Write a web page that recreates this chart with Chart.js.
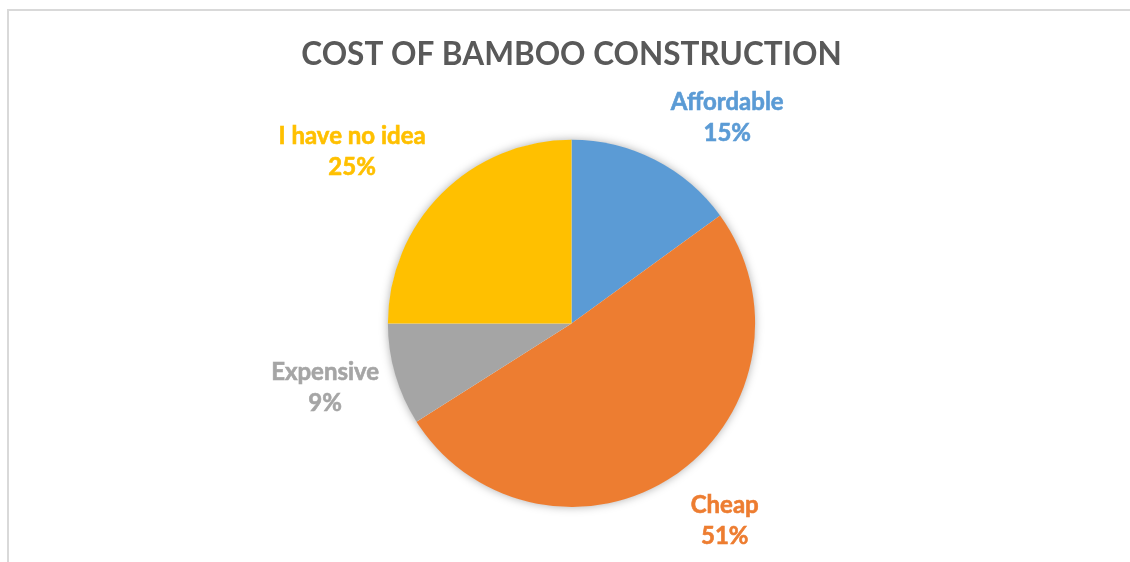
<!DOCTYPE html>
<html>
<head>
<meta charset="utf-8">
<script src="https://cdn.jsdelivr.net/npm/chart.js@4/dist/chart.umd.min.js"></script>
<style>
    html, body { margin: 0; padding: 0; background: #fff; }
    #wrap { position: relative; width: 1130px; height: 562px; overflow: hidden; }
    #frame { position: absolute; left: 7px; top: 9px; width: 1200px; height: 600px;
             border-left: 2px solid #d9d9d9; border-top: 2px solid #d9d9d9; }
    canvas { position: absolute; left: 0; top: 0; }
</style>
</head>
<body>
<div id="wrap">
    <div id="frame"></div>
    <canvas id="costChart" width="1130" height="562"></canvas>
</div>
<script>
const categories = ['Affordable', 'Cheap', 'Expensive', 'I have no idea'];
const shares = [15, 51, 9, 25];
const sliceColors = ['#5b9bd5', '#ed7d31', '#a5a5a5', '#ffc000'];

const FONT = 'Lato, "Open Sans", sans-serif';

// soft shadow behind the whole pie (drawn once so slices don't shade each other)
const pieShadow = {
    id: 'pieShadow',
    beforeDatasetsDraw(chart) {
        const arc = chart.getDatasetMeta(0).data[0];
        if (!arc) return;
        const { x, y, outerRadius } = arc.getProps(['x', 'y', 'outerRadius'], true);
        const ctx = chart.ctx;
        ctx.save();
        ctx.shadowColor = 'rgba(0,0,0,0.35)';
        ctx.shadowBlur = 10;
        ctx.fillStyle = '#ffffff';
        ctx.beginPath();
        ctx.arc(x, y, outerRadius - 0.5, 0, Math.PI * 2);
        ctx.fill();
        ctx.restore();
    }
};

// category name + percentage outside each slice
const outsideLabels = {
    id: 'outsideLabels',
    afterDatasetsDraw(chart) {
        const ctx = chart.ctx;
        const meta = chart.getDatasetMeta(0);
        const lineGap = 31;
        const padX = 16, padY = 13;
        ctx.save();
        ctx.font = 'bold 24px ' + FONT;
        ctx.textAlign = 'center';
        ctx.textBaseline = 'middle';
        ctx.lineWidth = 0.6;
        meta.data.forEach((arc, i) => {
            const p = arc.getProps(['x', 'y', 'startAngle', 'endAngle', 'outerRadius'], true);
            const mid = (p.startAngle + p.endAngle) / 2;
            const cx = Math.cos(mid), sy = Math.sin(mid);
            const ex = p.x + p.outerRadius * cx;
            const ey = p.y + p.outerRadius * sy;
            const name = categories[i];
            const pct = shares[i] + '%';
            const w = Math.max(ctx.measureText(name).width, ctx.measureText(pct).width);
            const h = lineGap * 2;
            const vy = Math.min(1, Math.max(0, (Math.abs(sy) - 0.15) * 2));
            const lx = ex + Math.sign(cx) * (w / 2 + padX);
            const ly = ey + Math.sign(sy) * vy * (h / 2 + padY) + 2;
            ctx.fillStyle = sliceColors[i];
            ctx.strokeStyle = sliceColors[i];
            ctx.fillText(name, lx, ly - lineGap / 2);
            ctx.strokeText(name, lx, ly - lineGap / 2);
            ctx.fillText(pct, lx, ly + lineGap / 2);
            ctx.strokeText(pct, lx, ly + lineGap / 2);
        });
        ctx.restore();
    }
};

new Chart(document.getElementById('costChart'), {
    type: 'pie',
    data: {
        labels: categories,
        datasets: [{
            data: shares,
            backgroundColor: sliceColors,
            borderWidth: 0,
            hoverOffset: 0
        }]
    },
    options: {
        responsive: false,
        animation: false,
        layout: { padding: { top: 0, bottom: 55, left: 13, right: 0 } },
        plugins: {
            legend: { display: false },
            tooltip: { enabled: false },
            title: {
                display: true,
                text: 'COST OF BAMBOO CONSTRUCTION',
                color: '#595959',
                font: { family: FONT, size: 31.5, weight: 'bold', lineHeight: 1.2 },
                padding: { top: 36, bottom: 66 }
            }
        }
    },
    plugins: [pieShadow, outsideLabels]
});
</script>
</body>
</html>
